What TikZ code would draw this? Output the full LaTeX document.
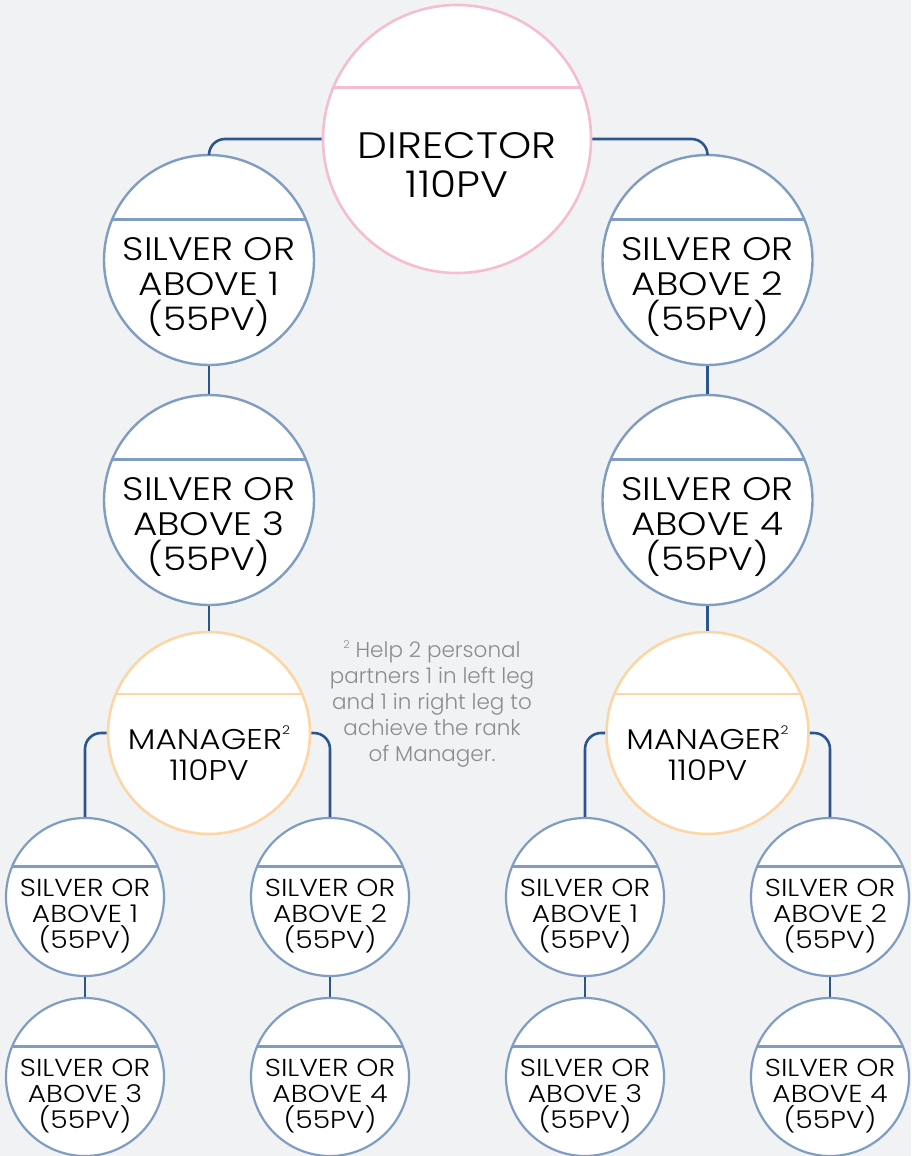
\documentclass[tikz,border=0pt]{standalone}
\usepackage{fontspec}
\setmainfont{Poppins Light}[FakeStretch=1.15]
\newfontfamily\notefont{Poppins Light}
\definecolor{bg}{HTML}{F1F2F4}
\definecolor{pinkc}{HTML}{F4BDD0}
\definecolor{peach}{HTML}{FCD6A4}
\definecolor{bluec}{HTML}{7F9CC2}
\definecolor{connc}{HTML}{2C5590}
\definecolor{notec}{HTML}{8C8C8C}
\begin{document}
\begin{tikzpicture}[x=1pt,y=-1pt,
  bub/.style n args={3}{circle, draw=#2, line width=#3, fill=white, minimum size=2*#1, inner sep=0pt,
    path picture={\draw[#2, line width=#3] ([yshift=0.385*#1]path picture bounding box.west) -- ([yshift=0.385*#1]path picture bounding box.east);}},
  conn/.style={draw=connc, line width=2.6pt, rounded corners=16pt},
  dirtxt/.style={align=center, font=\fontsize{36.8}{39}\selectfont, text=black},
  bigtxt/.style={align=center, font=\fontsize{32.5}{35}\selectfont, text=black},
  mgrtxt/.style={align=center, font=\fontsize{28.5}{31}\selectfont, text=black},
  smltxt/.style={align=center, font=\fontsize{24.5}{26}\selectfont, text=black},
  notetxt/.style={align=center, font=\notefont\fontsize{21.5}{26}\selectfont, text=notec}
]
\fill[bg] (0,0) rectangle (911,1156);
\useasboundingbox (0,0) rectangle (911,1156);
% circles
\node[bub={134pt}{pinkc}{2.6pt}] (dir) at (457,139) {};
\node[bub={105pt}{bluec}{2.4pt}] (s1) at (209,260) {};
\node[bub={105pt}{bluec}{2.4pt}] (s2) at (707.5,260) {};
\node[bub={105pt}{bluec}{2.4pt}] (s3) at (209,500) {};
\node[bub={105pt}{bluec}{2.4pt}] (s4) at (707.5,500) {};
\node[bub={101pt}{peach}{2.6pt}] (m1) at (209,733) {};
\node[bub={101pt}{peach}{2.6pt}] (m2) at (707.5,733) {};
\node[bub={79pt}{bluec}{2.2pt}] (a1) at (85,897) {};
\node[bub={79pt}{bluec}{2.2pt}] (a2) at (330,897) {};
\node[bub={79pt}{bluec}{2.2pt}] (a3) at (85,1077) {};
\node[bub={79pt}{bluec}{2.2pt}] (a4) at (330,1077) {};
\node[bub={79pt}{bluec}{2.2pt}] (b1) at (585,897) {};
\node[bub={79pt}{bluec}{2.2pt}] (b2) at (830,897) {};
\node[bub={79pt}{bluec}{2.2pt}] (b3) at (585,1077) {};
\node[bub={79pt}{bluec}{2.2pt}] (b4) at (830,1077) {};
% connectors
\draw[conn] (dir.west) -| (s1.north);
\draw[conn] (dir.east) -| (s2.north);
\draw[conn] (s1.south) -- (s3.north);
\draw[conn] (s2.south) -- (s4.north);
\draw[conn] (s3.south) -- (m1.north);
\draw[conn] (s4.south) -- (m2.north);
\draw[conn] (m1.west) -| (a1.north);
\draw[conn] (m1.east) -| (a2.north);
\draw[conn] (m2.west) -| (b1.north);
\draw[conn] (m2.east) -| (b2.north);
\draw[conn] (a1.south) -- (a3.north);
\draw[conn] (a2.south) -- (a4.north);
\draw[conn] (b1.south) -- (b3.north);
\draw[conn] (b2.south) -- (b4.north);
% labels
\node[dirtxt] (tdir) at ([yshift=-26pt]dir.center) {DIRECTOR\\110PV};
\node[bigtxt] (ts1) at ([yshift=-27pt]s1.center) {SILVER OR\\ABOVE 1\\(55PV)};
\node[bigtxt] (ts2) at ([yshift=-27pt]s2.center) {SILVER OR\\ABOVE 2\\(55PV)};
\node[bigtxt] (ts3) at ([yshift=-27pt]s3.center) {SILVER OR\\ABOVE 3\\(55PV)};
\node[bigtxt] (ts4) at ([yshift=-27pt]s4.center) {SILVER OR\\ABOVE 4\\(55PV)};
\node[mgrtxt] (tm1) at ([yshift=-20pt]m1.center) {MANAGER\raisebox{0.55em}{\fontsize{12}{12}\selectfont 2}\\110PV};
\node[mgrtxt] (tm2) at ([yshift=-20pt]m2.center) {MANAGER\raisebox{0.55em}{\fontsize{12}{12}\selectfont 2}\\110PV};
\node[smltxt] (ta1) at ([yshift=-19pt]a1.center) {SILVER OR\\ABOVE 1\\(55PV)};
\node[smltxt] (ta2) at ([yshift=-19pt]a2.center) {SILVER OR\\ABOVE 2\\(55PV)};
\node[smltxt] (ta3) at ([yshift=-19pt]a3.center) {SILVER OR\\ABOVE 3\\(55PV)};
\node[smltxt] (ta4) at ([yshift=-19pt]a4.center) {SILVER OR\\ABOVE 4\\(55PV)};
\node[smltxt] (tb1) at ([yshift=-19pt]b1.center) {SILVER OR\\ABOVE 1\\(55PV)};
\node[smltxt] (tb2) at ([yshift=-19pt]b2.center) {SILVER OR\\ABOVE 2\\(55PV)};
\node[smltxt] (tb3) at ([yshift=-19pt]b3.center) {SILVER OR\\ABOVE 3\\(55PV)};
\node[smltxt] (tb4) at ([yshift=-19pt]b4.center) {SILVER OR\\ABOVE 4\\(55PV)};
\node[notetxt] (note) at (432,704) {\raisebox{0.4em}{\fontsize{11}{11}\selectfont 2} Help 2 personal\\partners 1 in left leg\\and 1 in right leg to\\achieve the rank\\of Manager.};
\end{tikzpicture}
\end{document}
